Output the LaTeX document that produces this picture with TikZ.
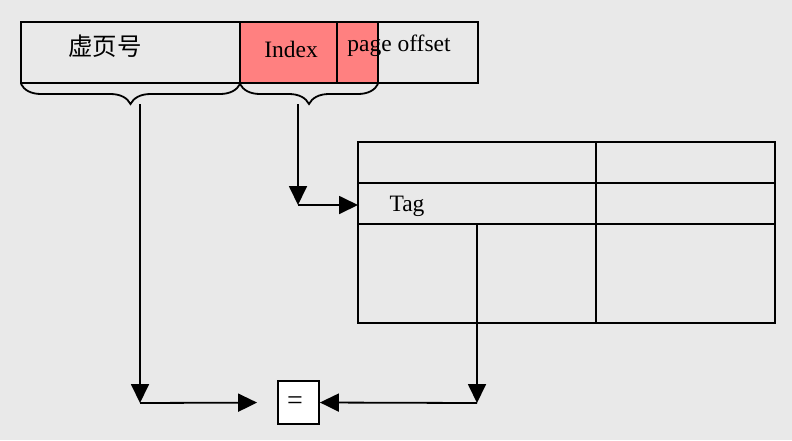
\documentclass[tikz,border=0pt]{standalone}
\usepackage{fontspec}
\setmainfont{Liberation Serif}
\newfontfamily\cjk{Noto Sans CJK SC}
\usetikzlibrary{arrows.meta}
\usetikzlibrary{decorations.pathreplacing}
\definecolor{bg}{RGB}{233,233,233}
\tikzset{t/.style={font=\fontsize{23.5}{23.5}\selectfont, inner sep=0pt}}
\tikzset{ln/.style={line width=1.8pt}}
\tikzset{arr/.style={ln, -{Triangle[length=19pt,width=18pt]}}}
\tikzset{br/.style={ln, decorate, decoration={brace, mirror, amplitude=20pt}}}

\begin{document}
\begin{tikzpicture}[x=1pt,y=-1pt]
  \fill[bg] (0,0) rectangle (792,440);
  \useasboundingbox (0,0) rectangle (792,440);
  % address register
  \fill[red!50] (240,22) rectangle (378,83);
  \draw[ln] (21,22) rectangle (478,83);
  \draw[ln] (240,22) -- (240,83);
  \draw[ln] (337,22) -- (337,83);
  \draw[ln] (378,22) -- (378,83);
  \node[t, font=\fontsize{24.5}{24.5}\selectfont] (vpn) at (105,46) {\cjk 虚页号};
  \node[t] (idx) at (291,49) {Index};
  \node[t] (off) at (399,46) {page offset};
  \draw[br] (21,84) -- (240,84);
  \draw[br] (240,84) -- (378,84);
  % cache table
  \draw[ln] (358,142) rectangle (775,323);
  \draw[ln] (358,183) -- (775,183);
  \draw[ln] (358,224) -- (775,224);
  \draw[ln] (596,142) -- (596,323);
  \draw[ln] (477,224) -- (477,323);
  \node[t] (tag) at (407,206) {Tag};
  \coordinate (row) at (358,205);
  % comparator
  \node[t, draw, ln, fill=white, minimum width=41pt, minimum height=43pt] (eq) at (298.5,402.5) {};
  \node[t, font=\fontsize{28}{28}\selectfont] (eqs) at (295,403) {=};
  % connectors
  \coordinate (b1) at (140,104);
  \coordinate (c1) at (140,403);
  \coordinate (b2) at (298,104);
  \coordinate (c2) at (298,205);
  \coordinate (d3) at (477,323);
  \coordinate (c3) at (477,403);
  \draw[arr] (b1) -- (c1);
  \draw[arr, shorten >=20pt] (c1) -- (eq.west);
  \draw[arr] (b2) -- (c2);
  \draw[arr] (c2) -- (row);
  \draw[arr] (d3) -- (c3);
  \draw[arr] (c3) -- (eq.east);
\end{tikzpicture}
\end{document}
